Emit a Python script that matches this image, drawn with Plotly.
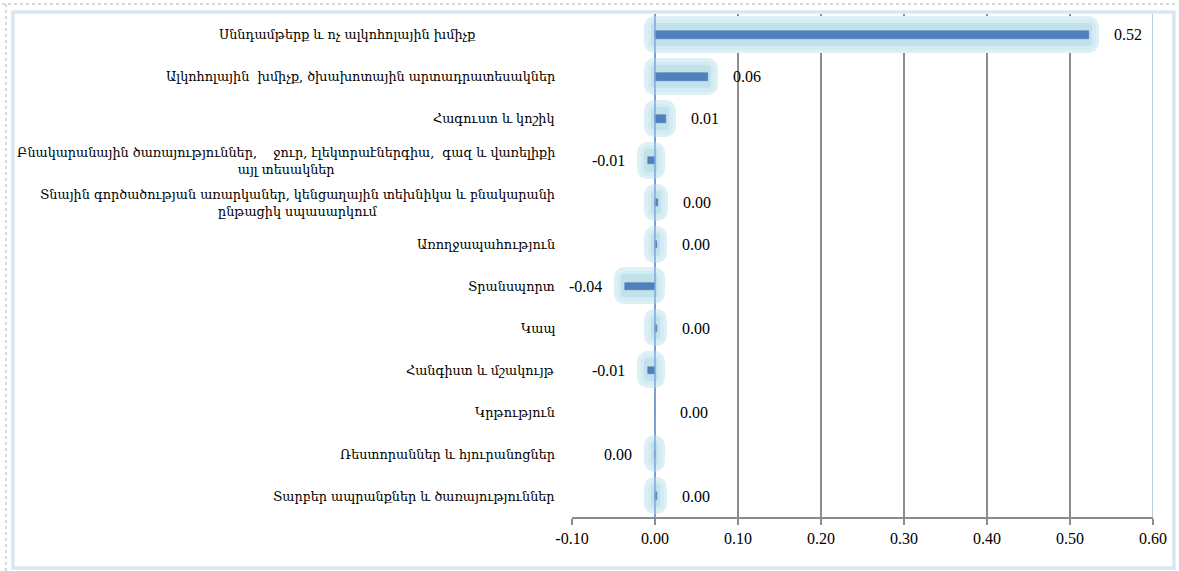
import plotly.graph_objects as go

categories = [
    "Սննդամթերք և ոչ ալկոհոլային խմիչք",
    "Ալկոհոլային  խմիչք, ծխախոտային արտադրատեսակներ",
    "Հագուստ և կոշիկ",
    "Բնակարանային ծառայություններ,    ջուր, էլեկտրաէներգիա,  գազ և վառելիքի<br>այլ տեսակներ",
    "Տնային գործածության առարկաներ, կենցաղային տեխնիկա և բնակարանի<br>ընթացիկ սպասարկում",
    "Առողջապահություն",
    "Տրանսպորտ",
    "Կապ",
    "Հանգիստ և մշակույթ",
    "Կրթություն",
    "Ռեստորաններ և հյուրանոցներ",
    "Տարբեր ապրանքներ և ծառայություններ",
]
values = [0.523, 0.064, 0.013, -0.009, 0.004, 0.003, -0.036, 0.003, -0.008, 0.0, -0.0004, 0.003]
x_ticks = [-0.10, 0.00, 0.10, 0.20, 0.30, 0.40, 0.50, 0.60]

W, H = 1179, 571
L, R, T, B = 572, 1155, 14, 517

def px_x(p):
    return (p - L) / (R - L)

def px_y(p):
    return (B - p) / (B - T)

num_font = dict(family="Liberation Serif, Times New Roman, serif", size=16, color="#000000")
cat_font = dict(family="DejaVu Serif, Liberation Serif, serif", size=12.8, color="#000000")

glow_vals = [v if v != 0 else None for v in values]

fig = go.Figure()
# soft glow layers (outer -> inner)
for fill, stroke, lw in [("#dbeff5", "#ddf0f5", 21), ("#cde8f0", "#d3ebf2", 14), ("#b8dde8", "#c2e2eb", 7)]:
    fig.add_trace(go.Bar(
        y=categories, x=glow_vals, orientation="h", width=0.38,
        marker=dict(color=fill, line=dict(color=stroke, width=lw)),
        hoverinfo="skip", showlegend=False,
    ))
# main bar
fig.add_trace(go.Bar(
    y=categories, x=values, orientation="h", width=0.18,
    marker=dict(color="#4f81bd", line=dict(color="#4672aa", width=0.5)),
    showlegend=False,
))

annotations = []
for c, v in zip(categories, values):
    txt = f"{v:.2f}"
    if txt == "-0.00":
        txt = "0.00"
    neg = v < 0
    annotations.append(dict(
        x=v, y=c, xref="x", yref="y", text=txt, showarrow=False,
        xanchor="right" if neg else "left", xshift=-21 if neg else 23,
        font=num_font,
    ))

for i, c in enumerate(categories):
    annotations.append(dict(
        x=px_x(557 if i != 0 else 478), xref="paper", y=c, yref="y",
        text=c, showarrow=False, xanchor="right", align="center",
        font=cat_font,
    ))

shapes = [
    # outer dotted border
    dict(type="line", xref="paper", yref="paper", x0=px_x(0), x1=px_x(W), y0=px_y(4), y1=px_y(4),
         line=dict(color="#b0b0b0", width=1, dash="dot"), layer="above"),
    dict(type="line", xref="paper", yref="paper", x0=px_x(4), x1=px_x(4), y0=px_y(4), y1=px_y(H),
         line=dict(color="#b0b0b0", width=1, dash="dot"), layer="above"),
    # chart frame
    dict(type="rect", xref="paper", yref="paper", x0=px_x(11), x1=px_x(1176), y0=px_y(12), y1=px_y(568),
         line=dict(color="#dce6f2", width=3.5), layer="below"),
    # right plot border
    dict(type="line", xref="x", yref="paper", x0=0.6, x1=0.6, y0=0, y1=1,
         line=dict(color="#b9cde5", width=2), layer="above"),
    # zero (vertical axis) line
    dict(type="line", xref="x", yref="paper", x0=0, x1=0, y0=0, y1=1,
         line=dict(color="#7ba7df", width=1.5), layer="above"),
]

fig.update_layout(
    width=W, height=H,
    margin=dict(l=L, r=W - R, t=T, b=H - B),
    paper_bgcolor="#ffffff", plot_bgcolor="#ffffff",
    barmode="overlay", bargap=0,
    annotations=annotations, shapes=shapes,
    xaxis=dict(
        range=[-0.1, 0.6], tickvals=x_ticks, ticktext=[f"{t:.2f}" for t in x_ticks],
        showgrid=True, gridcolor="#8c8c8c", gridwidth=1.5, zeroline=False,
        showline=True, linecolor="#8c8c8c", linewidth=2,
        ticks="outside", ticklen=6, tickwidth=2, tickcolor="#8c8c8c",
        tickfont=num_font, fixedrange=True,
    ),
    yaxis=dict(
        type="category", categoryorder="array", categoryarray=categories,
        autorange=False, range=[len(categories) - 0.5, -0.5],
        showticklabels=False, showgrid=False, zeroline=False, showline=False,
        fixedrange=True,
    ),
)

fig.write_html(
    "out.html",
    config={"displayModeBar": False},
    post_script=(
        "document.body.style.margin='0px';document.body.style.overflow='hidden';"
        "var s=document.createElement('style');"
        "s.textContent='.trace.bars path{stroke-linejoin:round !important;}';"
        "document.head.appendChild(s);"
    ),
)
